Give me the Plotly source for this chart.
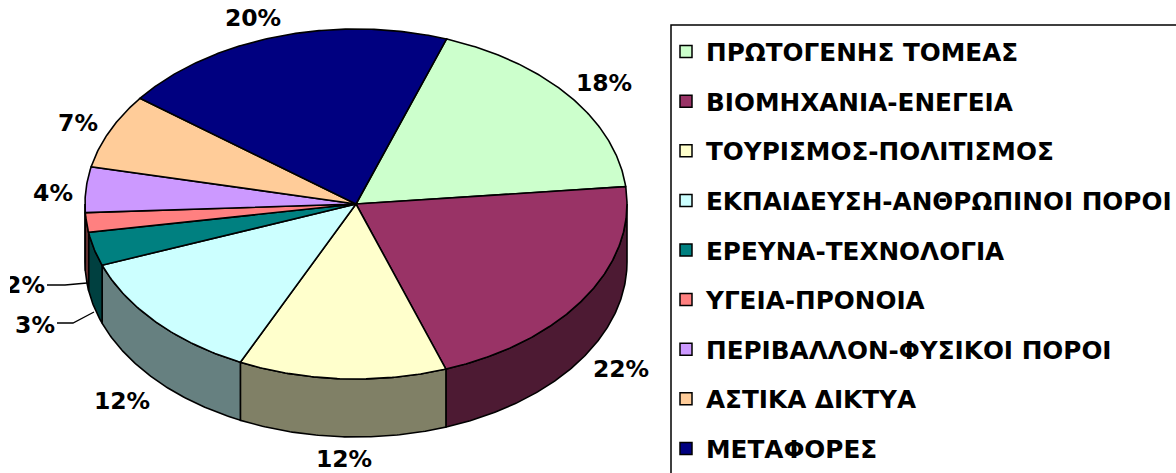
import numpy as np
import plotly.graph_objects as go

categories = ["ΠΡΩΤΟΓΕΝΗΣ ΤΟΜΕΑΣ", "ΒΙΟΜΗΧΑΝΙΑ-ΕΝΕΓΕΙΑ", "ΤΟΥΡΙΣΜΟΣ-ΠΟΛΙΤΙΣΜΟΣ",
              "ΕΚΠΑΙΔΕΥΣΗ-ΑΝΘΡΩΠΙΝΟΙ ΠΟΡΟΙ", "ΕΡΕΥΝΑ-ΤΕΧΝΟΛΟΓΙΑ", "ΥΓΕΙΑ-ΠΡΟΝΟΙΑ",
              "ΠΕΡΙΒΑΛΛΟΝ-ΦΥΣΙΚΟΙ ΠΟΡΟΙ", "ΑΣΤΙΚΑ ΔΙΚΤΥΑ", "ΜΕΤΑΦΟΡΕΣ"]
values = [18.0, 21.2, 12.4, 12.3, 3.1, 1.8, 4.2, 6.9, 20.1]
labels = ["18%", "22%", "12%", "12%", "3%", "2%", "4%", "7%", "20%"]
colors = ["#CCFFCC", "#993366", "#FFFFCC", "#CCFFFF", "#008080",
          "#FF8080", "#CC99FF", "#FFCC99", "#000080"]
side_colors = ["#668066", "#4D1A33", "#808066", "#668080", "#004040",
               "#804040", "#664D80", "#806633", "#000040"]
label_x = [604, 621, 344, 122, 35, 25, 53, 78, 253]
label_y = [85, 371, 461, 403, 327, 287, 195, 125, 20]

CX, CY, RX, RY, DEPTH, START = 356, 204, 271, 175, 58, 19.5
FONT = "DejaVu Sans"


def arc(t0, t1, dy=0.0):
    t = np.radians(np.linspace(t0, t1, max(int(abs(t1 - t0) * 2), 2)))
    return CX + RX * np.sin(t), CY - RY * np.cos(t) + dy


fig = go.Figure()
edges = START + np.concatenate([[0], np.cumsum(values)]) * 360.0 / sum(values)

# side walls (only the front half of the cylinder is visible)
for i in range(len(values)):
    a, b = max(edges[i], 90), min(edges[i + 1], 270)
    if b <= a:
        continue
    xt, yt = arc(a, b)
    xb, yb = arc(b, a, DEPTH)
    fig.add_trace(go.Scatter(
        x=np.r_[xt, xb, xt[0]], y=np.r_[yt, yb, yt[0]], mode="lines", fill="toself",
        fillcolor=side_colors[i], line=dict(color="black", width=1.6),
        showlegend=False, hoverinfo="skip"))

# top faces
for i in range(len(values)):
    xa, ya = arc(edges[i], edges[i + 1])
    fig.add_trace(go.Scatter(
        x=np.r_[CX, xa, CX], y=np.r_[CY, ya, CY], mode="lines", fill="toself",
        fillcolor=colors[i], line=dict(color="black", width=1.6),
        showlegend=False, name=categories[i], text=labels[i], hoverinfo="name+text"))

# leader lines for the two small slices
fig.add_trace(go.Scatter(x=[47, 65, 87], y=[285, 285, 283], mode="lines",
                         line=dict(color="black", width=1.3), showlegend=False, hoverinfo="skip"))
fig.add_trace(go.Scatter(x=[57, 73, 94], y=[323, 323, 312], mode="lines",
                         line=dict(color="black", width=1.3), showlegend=False, hoverinfo="skip"))

# percent labels
fig.add_trace(go.Scatter(x=label_x, y=label_y, mode="text", text=labels,
                         textfont=dict(family=FONT, size=23.5, color="black", weight="bold"),
                         textposition="middle center", showlegend=False, hoverinfo="skip"))

# legend entries
for c, col in zip(categories, colors):
    fig.add_trace(go.Scatter(x=[None], y=[None], mode="markers", name=c, legendgroup=c,
                             marker=dict(symbol="square", size=12, color=col,
                                         line=dict(color="black", width=1.5))))

fig.update_layout(
    width=1176, height=473, margin=dict(l=0, r=0, t=0, b=0, autoexpand=False),
    paper_bgcolor="white", plot_bgcolor="white",
    xaxis=dict(range=[0, 1176], visible=False, fixedrange=True),
    yaxis=dict(range=[473, 0], visible=False, fixedrange=True),
    legend=dict(x=666 / 1176, xanchor="left", y=1 - 29 / 473, yanchor="top",
                font=dict(family=FONT, size=24.7, color="black", weight="bold"),
                tracegroupgap=14.5, bgcolor="rgba(0,0,0,0)", itemclick=False, itemdoubleclick=False),
    shapes=[
        # legend frame, cut off by the picture edge
        dict(type="path", path="M 671 473 L 671 25 L 1176 25", line=dict(color="black", width=1.5),
             layer="above"),
        # the "2%" label is cut off at the left
        dict(type="rect", x0=0, x1=10, y0=270, y1=300, fillcolor="white", line=dict(width=0),
             layer="above"),
    ],
)

fig.write_html("out.html", config=dict(displayModeBar=False),
               post_script="document.body.style.margin='0';document.body.style.overflow='hidden';")
